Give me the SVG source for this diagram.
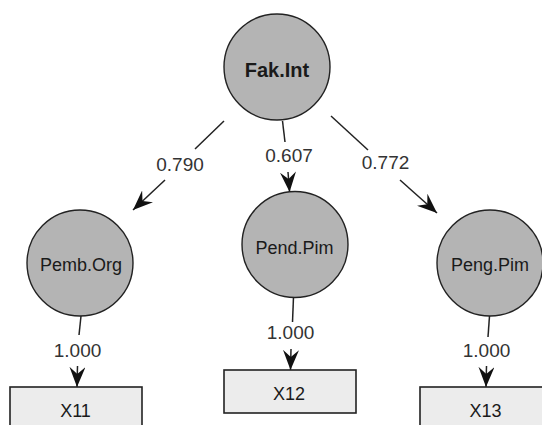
<svg xmlns="http://www.w3.org/2000/svg" width="542" height="425" viewBox="0 0 542 425">
<defs>
<style>
.lat{fill:#b4b4b4;stroke:#222;stroke-width:1.4}
.man{fill:#ececec;stroke:#222;stroke-width:1.6}
.edge{stroke:#222;stroke-width:1.5;fill:none}
.nl{font-family:"Liberation Sans",Arial,sans-serif;font-size:18px;fill:#1a1a1a;text-anchor:middle}
.el{font-family:"Liberation Sans",Arial,sans-serif;font-size:19px;fill:#333;text-anchor:middle}
</style>
<marker id="arr" viewBox="0 0 20 16" refX="20" refY="8" markerWidth="20" markerHeight="16" markerUnits="userSpaceOnUse" orient="auto">
<path d="M20,8 L0,0 L7,8 L0,16 Z" fill="#111"/>
</marker>
</defs>
<rect width="542" height="425" fill="#fff"/>
<g id="connectors">
<line class="edge" x1="224" y1="121" x2="195" y2="149"/>
<line class="edge" x1="165" y1="180" x2="133" y2="210" marker-end="url(#arr)"/>
<line class="edge" x1="282.5" y1="121" x2="285" y2="142"/>
<line class="edge" x1="288" y1="172" x2="289.6" y2="192" marker-end="url(#arr)"/>
<line class="edge" x1="331" y1="116" x2="368" y2="150"/>
<line class="edge" x1="400" y1="180" x2="437" y2="213" marker-end="url(#arr)"/>
<line class="edge" x1="81" y1="316" x2="79" y2="335"/>
<line class="edge" x1="77.5" y1="366" x2="77" y2="387" marker-end="url(#arr)"/>
<line class="edge" x1="293.5" y1="297" x2="292.5" y2="322"/>
<line class="edge" x1="291" y1="349" x2="290.5" y2="370" marker-end="url(#arr)"/>
<line class="edge" x1="489.5" y1="316" x2="488" y2="337"/>
<line class="edge" x1="486.5" y1="366" x2="486" y2="387" marker-end="url(#arr)"/>
<text class="el" x="180" y="170.5">0.790</text>
<text class="el" x="289" y="162">0.607</text>
<text class="el" x="385.5" y="169">0.772</text>
<text class="el" x="77.5" y="357">1.000</text>
<text class="el" x="290.5" y="338.5">1.000</text>
<text class="el" x="486.5" y="357">1.000</text>
</g>
<g id="FakInt">
<circle class="lat" cx="277" cy="67" r="53"/>
<text class="nl" x="277" y="76.5" style="font-weight:bold;font-size:20px">Fak.Int</text>
</g>
<g id="PembOrg">
<circle class="lat" cx="80" cy="263" r="53"/>
<text class="nl" x="81" y="271">Pemb.Org</text>
</g>
<g id="PendPim">
<circle class="lat" cx="295" cy="244.5" r="53"/>
<text class="nl" x="294.5" y="254">Pend.Pim</text>
</g>
<g id="PengPim">
<circle class="lat" cx="490" cy="263" r="53"/>
<text class="nl" x="490" y="271">Peng.Pim</text>
</g>
<g id="X11">
<rect class="man" x="10" y="387" width="132" height="43"/>
<text class="nl" x="75.5" y="417">X11</text>
</g>
<g id="X12">
<rect class="man" x="224" y="370" width="132" height="43"/>
<text class="nl" x="289" y="400">X12</text>
</g>
<g id="X13">
<rect class="man" x="420" y="387" width="132" height="43"/>
<text class="nl" x="485.5" y="417">X13</text>
</g>
</svg>
